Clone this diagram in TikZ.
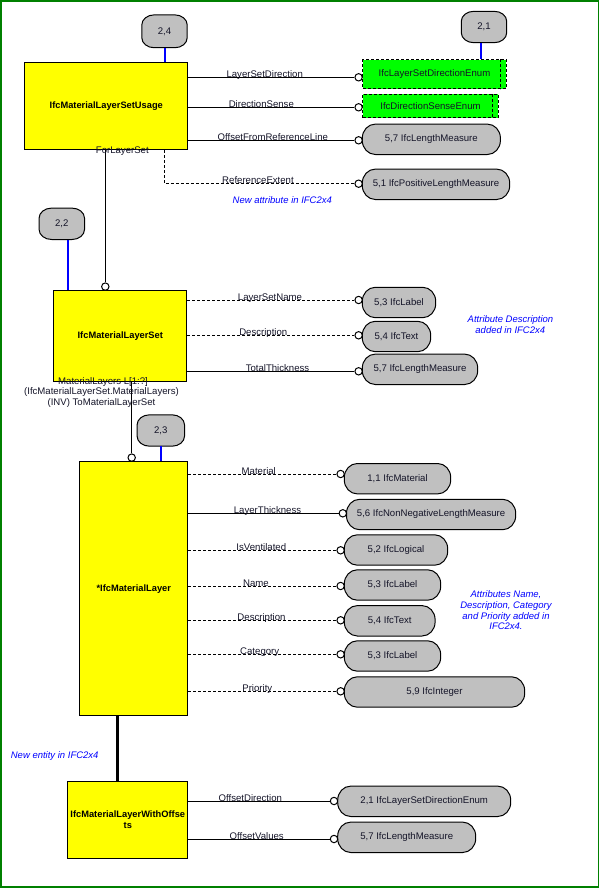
\documentclass[tikz,border=0pt]{standalone}
\usepackage{fontspec}
\setmainfont{Liberation Sans}
\usetikzlibrary{backgrounds}
\definecolor{ygold}{RGB}{255,255,0}
\definecolor{pgray}{RGB}{192,192,192}
\definecolor{egreen}{RGB}{0,255,0}
\definecolor{fgreen}{RGB}{0,128,0}
\definecolor{nblue}{RGB}{0,0,255}
\definecolor{lblc}{RGB}{20,20,40}
\newcommand\lblfont{\fontsize{9.6}{10.7}\selectfont}
\newcommand\entfont{\fontsize{9.3}{11}\selectfont\bfseries}
\newcommand\notefont{\fontsize{9.5}{10.7}\selectfont\itshape}
% outline with elliptical corners behind a named node: #1 name, #2 rx, #3 ry
\newcommand\RoundOutline[3]{%
  \begin{scope}[on background layer]
  \draw[fill=pgray, line width=1pt]
    ([xshift=#2]#1.north west) -- ([xshift=-#2]#1.north east)
    arc[start angle=90, end angle=0, x radius=#2, y radius=#3]
    -- ([yshift=#3]#1.south east)
    arc[start angle=0, end angle=-90, x radius=#2, y radius=#3]
    -- ([xshift=#2]#1.south west)
    arc[start angle=-90, end angle=-180, x radius=#2, y radius=#3]
    -- ([yshift=-#3]#1.north west)
    arc[start angle=180, end angle=90, x radius=#2, y radius=#3] -- cycle;
  \end{scope}}
\newcommand\PillOutline[1]{\RoundOutline{#1}{13pt}{14pt}}
\newcommand\BubbleOutline[1]{\RoundOutline{#1}{12.5pt}{10pt}}
\begin{document}
\begin{tikzpicture}[x=1pt,y=-1pt,
  entity/.style={draw, fill=ygold, line width=1pt, inner sep=0pt, anchor=north west, align=center, font=\entfont},
  pill/.style={minimum height=30pt, inner sep=0pt, anchor=west, font=\lblfont, text=lblc},
  bubble/.style={minimum width=45pt, minimum height=31pt, inner sep=0pt, font=\lblfont, text=lblc},
  enumbox/.style={draw, fill=egreen, line width=1pt, dash pattern=on 3pt off 2pt, anchor=north west, inner sep=0pt, font=\lblfont, text=lblc},
  enumline/.style={line width=1pt, dash pattern=on 3pt off 2pt},
  circ/.style={circle, draw, fill=white, line width=1pt, minimum size=7.4pt, inner sep=0pt},
  attr/.style={line width=1pt},
  attrd/.style={line width=1pt, dash pattern=on 3pt off 2pt},
  lbl/.style={font=\lblfont, inner sep=0pt, anchor=base, text=lblc},
  note/.style={font=\notefont, text=nblue, inner sep=0pt, anchor=base},
  bline/.style={draw=nblue, line width=2pt},
  thick link/.style={line width=2.7pt}
]
\useasboundingbox (0,0) rectangle (600,888);
\draw[fgreen, line width=1.5pt] (1,1) rectangle (598.5,887);

% entities
\node[entity, minimum width=163pt, minimum height=87.3pt] (usage) at (24.3,62) {IfcMaterialLayerSetUsage};
\node[entity, minimum width=133pt, minimum height=91pt] (lset) at (53.3,290.3) {IfcMaterialLayerSet};
\node[entity, minimum width=108pt, minimum height=254pt] (layer) at (79.3,461.3) {*IfcMaterialLayer};
\node[entity, minimum width=120pt, minimum height=76.7pt] (offs) at (67.3,781.3) {IfcMaterialLayerWithOffse\\ts};

% bubbles
\node[bubble, minimum height=32.5pt] (b24) at (164.5,31.3) {2,4};
\BubbleOutline{b24}
\node[bubble] (b21) at (484,27) {2,1};
\BubbleOutline{b21}
\node[bubble] (b22) at (61.8,223.8) {2,2};
\BubbleOutline{b22}
\node[bubble, minimum width=47pt] (b23) at (160.8,430.5) {2,3};
\BubbleOutline{b23}

% enumerations
\node[enumbox, minimum width=143.4pt, minimum height=29pt] (e1) at (362.3,59.3) {IfcLayerSetDirectionEnum};
\draw[enumline] ([xshift=-6.4pt]e1.north east) -- ([xshift=-6.4pt]e1.south east);
\node[enumbox, minimum width=135.4pt, minimum height=23.3pt] (e2) at (362.3,94) {IfcDirectionSenseEnum};
\draw[enumline] ([xshift=-6pt]e2.north east) -- ([xshift=-6pt]e2.south east);

% blue links
\draw[bline] (b24.south) -- (b24.south |- usage.north);
\draw[bline] ([xshift=-3pt]b21.south) -- ([xshift=-3pt]b21.south |- e1.north);
\draw[bline] ([xshift=6.2pt]b22.south) -- ([xshift=6.2pt]b22.south |- lset.north);
\draw[bline] (b23.south) -- (b23.south |- layer.north);

% ---- IfcMaterialLayerSetUsage attributes
\node[circ] (c1) at (358.6,77.3) {};
\draw[attr] (usage.east |- c1) -- (c1);
\node[lbl] (l1) at (264.7,77.3) {LayerSetDirection};

\node[circ] (c2) at (358.6,107.3) {};
\draw[attr] (usage.east |- c2) -- (c2);
\node[lbl] (l2) at (261.3,107.3) {DirectionSense};

\node[pill, minimum width=137.7pt] (p3) at (362.3,139.3) {5,7 IfcLengthMeasure};
\PillOutline{p3}
\node[circ] (c3) at (358.6,140.3) {};
\draw[attr] (usage.east |- c3) -- (c3);
\node[lbl] (l3) at (272.8,140.3) {OffsetFromReferenceLine};

\node[pill, minimum width=147pt] (p4) at (362.3,184.3) {5,1 IfcPositiveLengthMeasure};
\PillOutline{p4}
\node[circ] (c4) at (358.6,183.7) {};
\coordinate (refx) at (164.3,183.7);
\draw[attrd] (usage.south -| refx) |- (c4);
\node[lbl] (l4) at (258,183.7) {ReferenceExtent};
\node[note] (n1) at (282.3,203.5) {New attribute in IFC2x4};

% ForLayerSet
\node[circ] (cfl) at (105.3,286.6) {};
\draw[attr] (usage.south -| cfl) -- (cfl);
\node[lbl] (lfl) at (122.3,153) {ForLayerSet};

% ---- IfcMaterialLayerSet attributes
\node[pill, minimum width=73pt] (p5) at (362.3,302.5) {5,3 IfcLabel};
\PillOutline{p5}
\node[circ] (c5) at (358.6,300) {};
\draw[attrd] (lset.east |- c5) -- (c5);
\node[lbl] (l5) at (270,300) {LayerSetName};

\node[pill, minimum width=68pt] (p6) at (362.3,336.5) {5,4 IfcText};
\PillOutline{p6}
\node[circ] (c6) at (358.6,335.3) {};
\draw[attrd] (lset.east |- c6) -- (c6);
\node[lbl] (l6) at (263.3,335.3) {Description};

\node[pill, minimum width=115pt] (p7) at (362.3,369.3) {5,7 IfcLengthMeasure};
\PillOutline{p7}
\node[circ] (c7) at (358.6,371.3) {};
\draw[attr] (lset.east |- c7) -- (c7);
\node[lbl] (l7) at (277.5,371.3) {TotalThickness};

\node[note] (n2a) at (510.5,322.7) {Attribute Description};
\node[note] (n2b) at (510.3,333.6) {added in IFC2x4};

% MaterialLayers
\node[circ] (cml) at (131.7,457.6) {};
\draw[attr] (lset.south -| cml) -- (cml);
\node[lbl] (lml1) at (103,384) {MaterialLayers L[1:?]};
\node[lbl] (lml2) at (101.5,394.8) {(IfcMaterialLayerSet.MaterialLayers)};
\node[lbl] (lml3) at (101.5,405.5) {(INV) ToMaterialLayerSet};

% ---- IfcMaterialLayer attributes
\node[pill, minimum width=106pt] (p8) at (344.3,478.7) {1,1 IfcMaterial};
\PillOutline{p8}
\node[circ] (c8) at (340.6,474) {};
\draw[attrd] (layer.east |- c8) -- (c8);
\node[lbl] (l8) at (258.8,474) {Material};

\node[pill, minimum width=168.8pt] (p9) at (346.5,514.5) {5,6 IfcNonNegativeLengthMeasure};
\PillOutline{p9}
\node[circ] (c9) at (342.8,513.3) {};
\draw[attr] (layer.east |- c9) -- (c9);
\node[lbl] (l9) at (267.5,513.3) {LayerThickness};

\node[pill, minimum width=103pt] (p10) at (344.3,550) {5,2 IfcLogical};
\PillOutline{p10}
\node[circ] (c10) at (340.6,550.3) {};
\draw[attrd] (layer.east |- c10) -- (c10);
\node[lbl] (l10) at (261.3,550.3) {IsVentilated};

\node[pill, minimum width=96pt] (p11) at (344.3,585) {5,3 IfcLabel};
\PillOutline{p11}
\node[circ] (c11) at (340.6,586) {};
\draw[attrd] (layer.east |- c11) -- (c11);
\node[lbl] (l11) at (256,586) {Name};

\node[pill, minimum width=90.4pt] (p12) at (344.3,620.8) {5,4 IfcText};
\PillOutline{p12}
\node[circ] (c12) at (340.6,620.3) {};
\draw[attrd] (layer.east |- c12) -- (c12);
\node[lbl] (l12) at (261.5,620.3) {Description};

\node[pill, minimum width=96pt] (p13) at (344.3,656) {5,3 IfcLabel};
\PillOutline{p13}
\node[circ] (c13) at (340.6,654.3) {};
\draw[attrd] (layer.east |- c13) -- (c13);
\node[lbl] (l13) at (259.7,654.3) {Category};

\node[pill, minimum width=180pt] (p14) at (344.3,692) {5,9 IfcInteger};
\PillOutline{p14}
\node[circ] (c14) at (340.6,691.3) {};
\draw[attrd] (layer.east |- c14) -- (c14);
\node[lbl] (l14) at (257.3,691.3) {Priority};

\node[note] (n3a) at (506,597.8) {Attributes Name,};
\node[note] (n3b) at (506,608.5) {Description, Category};
\node[note] (n3c) at (506,619.2) {and Priority added in};
\node[note] (n3d) at (506,629.9) {IFC2x4.};

% subtype link
\draw[thick link] ([xshift=-16pt]layer.south) -- ([xshift=-16pt]layer.south |- offs.north);
\node[note] (n4) at (54.7,758.5) {New entity in IFC2x4};

% ---- IfcMaterialLayerWithOffsets attributes
\node[pill, minimum width=172.6pt] (p15) at (337.7,801.3) {2,1 IfcLayerSetDirectionEnum};
\PillOutline{p15}
\node[circ] (c15) at (334,801) {};
\draw[attr] (offs.east |- c15) -- (c15);
\node[lbl] (l15) at (250.3,801) {OffsetDirection};

\node[pill, minimum width=137.6pt] (p16) at (337.7,837.3) {5,7 IfcLengthMeasure};
\PillOutline{p16}
\node[circ] (c16) at (334,839) {};
\draw[attr] (offs.east |- c16) -- (c16);
\node[lbl] (l16) at (256.7,839) {OffsetValues};
\end{tikzpicture}
\end{document}
